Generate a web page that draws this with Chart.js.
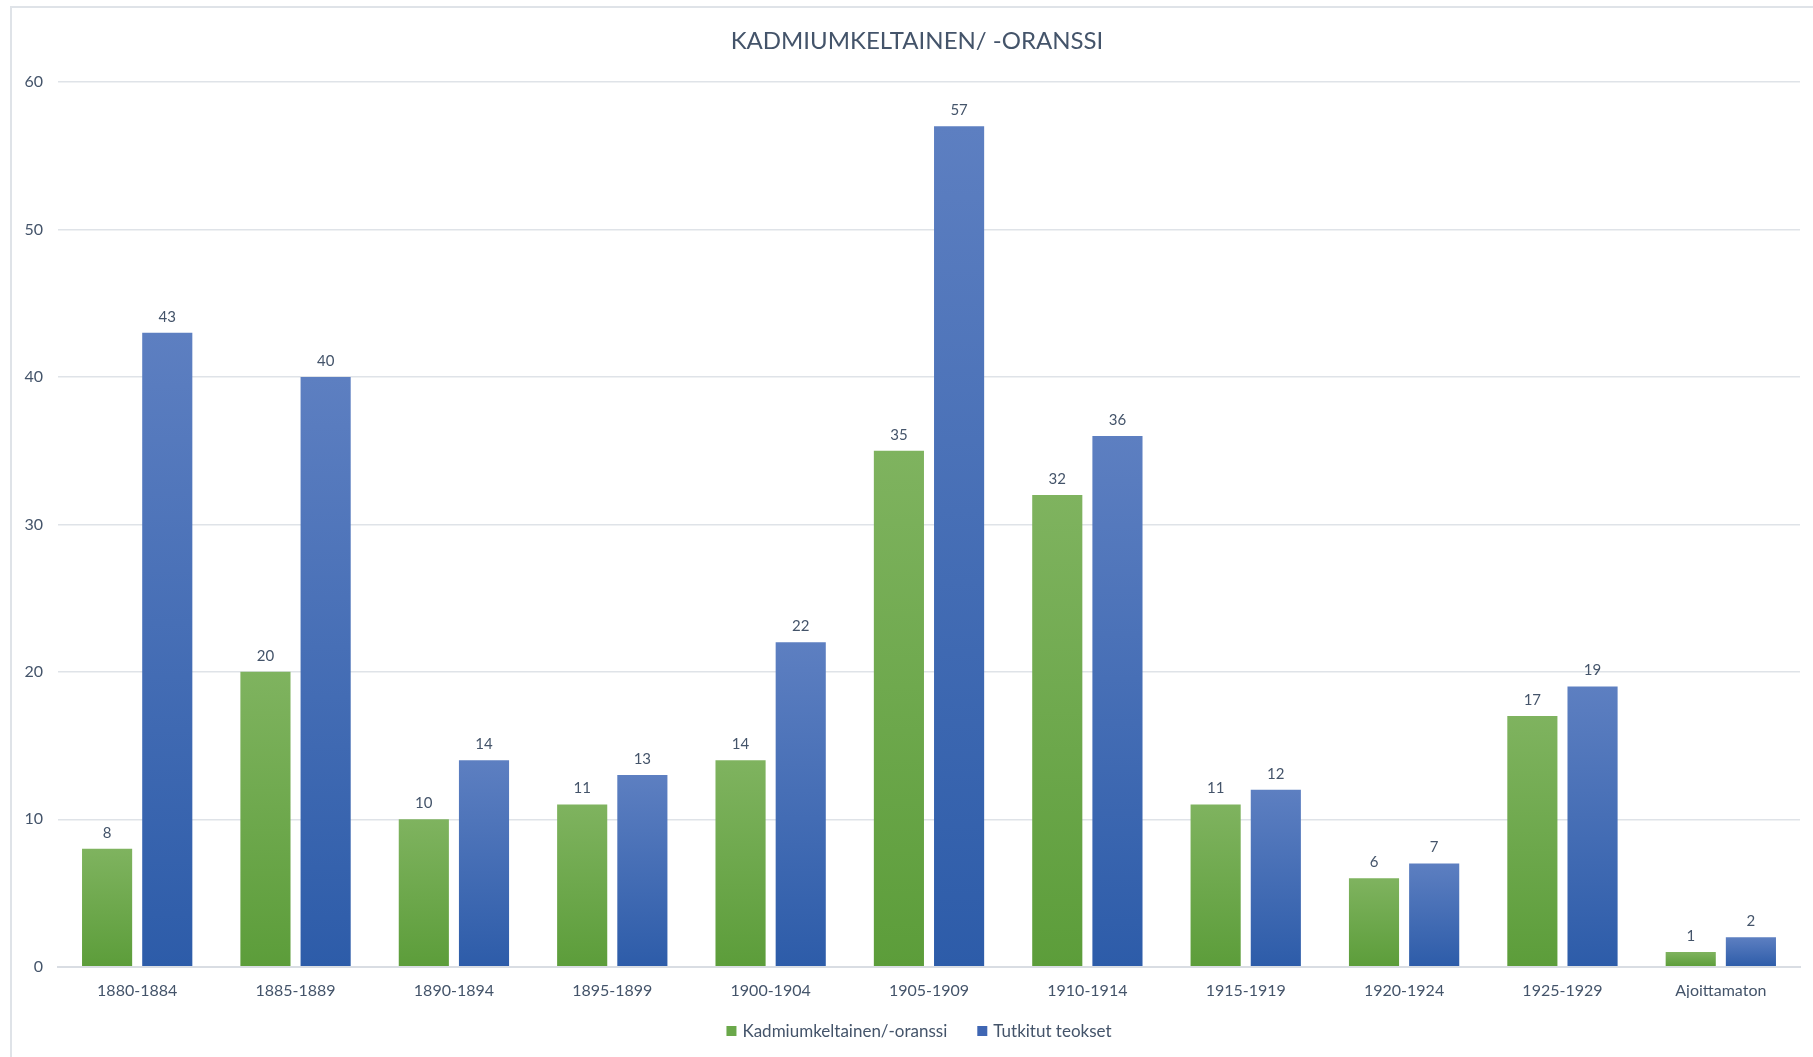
<!DOCTYPE html>
<html>
<head>
<meta charset="utf-8">
<script src="https://cdn.jsdelivr.net/npm/chart.js@4/dist/chart.umd.min.js"></script>
<style>
  html, body { margin: 0; padding: 0; background: #fff; overflow: hidden; }
  #wrap { position: relative; width: 1813px; height: 1057px; }
  #frame { position: absolute; left: 10px; top: 6px; width: 1900px; height: 1200px; border: 2px solid #dfe3e8; }
  canvas { position: absolute; left: 0; top: 0; }
</style>
</head>
<body>
<div id="wrap">
  <div id="frame"></div>
  <canvas id="myChart" width="1813" height="1057"></canvas>
</div>
<script>
var periods = ["1880-1884", "1885-1889", "1890-1894", "1895-1899", "1900-1904", "1905-1909", "1910-1914", "1915-1919", "1920-1924", "1925-1929", "Ajoittamaton"];
var kadmium = [8, 20, 10, 11, 14, 35, 32, 11, 6, 17, 1];
var tutkitut = [43, 40, 14, 13, 22, 57, 36, 12, 7, 19, 2];
var yTicks = [0, 10, 20, 30, 40, 50, 60];
var chartTitle = "KADMIUMKELTAINEN/ -ORANSSI";
var legendColors = ["#6aa84a", "#3f66b3"];

var textColor = "#44546a";
var fontName = "Lato";

// vertical gradient per bar, lighter on top like the office style
function barFill(top, bottom, flat) {
  return function (ctx) {
    var chart = ctx.chart;
    if (!chart.chartArea || ctx.type !== "data") return flat;
    var y = chart.scales.y;
    var v = ctx.dataset.data[ctx.dataIndex];
    var y0 = y.getPixelForValue(v);
    var y1 = y.getPixelForValue(0);
    var g = chart.ctx.createLinearGradient(0, y0, 0, y1);
    g.addColorStop(0, top);
    g.addColorStop(1, bottom);
    return g;
  };
}

// values above each bar, title and legend (both sit a bit right of the canvas centre)
var extras = {
  id: "extras",
  afterDatasetsDraw: function (chart) {
    var c = chart.ctx;
    c.save();
    c.fillStyle = textColor;
    c.font = "15px " + fontName;
    c.textAlign = "center";
    c.textBaseline = "middle";
    chart.data.datasets.forEach(function (ds, i) {
      chart.getDatasetMeta(i).data.forEach(function (bar, j) {
        c.fillText(ds.data[j], bar.x, bar.y - 16);
      });
    });

    c.font = "24px " + fontName;
    c.fillText(chartTitle, 917, 41);

    // legend
    c.font = "17px " + fontName;
    c.textAlign = "left";
    var box = 10, gapIn = 6, gapOut = 30, cy = 1031;
    var items = chart.data.datasets.map(function (ds) { return ds.label; });
    var total = 0;
    items.forEach(function (t, i) {
      total += box + gapIn + c.measureText(t).width + (i < items.length - 1 ? gapOut : 0);
    });
    var x = 919 - total / 2;
    items.forEach(function (t, i) {
      c.fillStyle = legendColors[i];
      c.fillRect(x, cy - box / 2, box, box);
      x += box + gapIn;
      c.fillStyle = textColor;
      c.fillText(t, x, cy + 1);
      x += c.measureText(t).width + gapOut;
    });
    c.restore();
  }
};

new Chart("myChart", {
  type: "bar",
  data: {
    labels: periods,
    datasets: [
      {
        label: "Kadmiumkeltainen/-oranssi",
        data: kadmium,
        backgroundColor: barFill("#7fb35f", "#5c9d3a", "#6aa84a"),
        categoryPercentage: 0.76,
        barPercentage: 0.833
      },
      {
        label: "Tutkitut teokset",
        data: tutkitut,
        backgroundColor: barFill("#5d7fc1", "#2d5ca9", "#4268b4"),
        categoryPercentage: 0.76,
        barPercentage: 0.833
      }
    ]
  },
  options: {
    responsive: false,
    animation: false,
    layout: { padding: { left: 0, right: 13, top: 82, bottom: 59 } },
    plugins: {
      title: { display: false },
      legend: { display: false },
      tooltip: { enabled: false }
    },
    scales: {
      x: {
        grid: { display: false, drawTicks: false },
        border: { display: true, color: "#d9dde3", width: 2 },
        ticks: { color: textColor, font: { family: fontName, size: 16 }, padding: 14, maxRotation: 0, autoSkip: false },
        afterFit: function (scale) { scale.height -= 16; }
      },
      y: {
        min: 0,
        max: 60,
        afterBuildTicks: function (scale) {
          scale.ticks = yTicks.map(function (v) { return { value: v }; });
        },
        afterFit: function (scale) { scale.width = 58; },
        grid: { color: "#dfe3e8", lineWidth: 1.5, drawTicks: false },
        border: { display: false },
        ticks: { color: textColor, font: { family: fontName, size: 16 }, padding: 15 }
      }
    }
  },
  plugins: [extras]
});
</script>
</body>
</html>
